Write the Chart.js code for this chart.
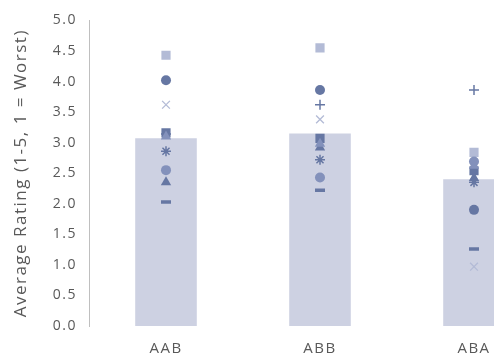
<!DOCTYPE html>
<html>
<head>
<meta charset="utf-8">
<script src="https://cdn.jsdelivr.net/npm/chart.js@4"></script>
<style>
  html, body { margin: 0; padding: 0; background: #fff; overflow: hidden; }
  #wrap { width: 560px; height: 363px; }
</style>
</head>
<body>
<div id="wrap"><canvas id="c" width="560" height="363"></canvas></div>
<script>
// Categories and averages
const categories = ['AAB', 'ABB', 'ABA'];
const averages = [3.07, 3.15, 2.40];

// Individual ratings, one array per respondent
const rLightSquare = [4.43, 4.55, 2.84];
const rDarkCircle = [4.02, 3.86, 1.90];
const rLightCross = [3.62, 3.38, 0.97];
const rDarkPlus = [3.14, 3.62, 3.86];
const rDarkSquare = [3.16, 3.07, 2.54];
const rLightTriangle = [3.10, 2.98, 2.62];
const rStar = [2.86, 2.72, 2.35];
const rMidCircle = [2.55, 2.43, 2.69];
const rDarkTriangle = [2.35, 2.92, 2.42];
const rDash = [2.03, 2.22, 1.26];

const yTicks = [0, 0.5, 1, 1.5, 2, 2.5, 3, 3.5, 4, 4.5, 5];

const DARK = '#6677a3';
const MID = '#8391bb';
const LIGHT = '#b3bbd6';
const BAR = '#cdd1e2';
const TEXT = '#595959';

function marks(data, style, color, radius, filled, lineWidth) {
  return {
    type: 'line',
    data: data,
    showLine: false,
    order: 1,
    pointStyle: style,
    pointRadius: radius,
    pointHoverRadius: radius,
    pointBackgroundColor: filled ? color : 'transparent',
    pointBorderColor: color,
    pointBorderWidth: filled ? 0 : (lineWidth || 1.5),
  };
}

// Slightly wider text spacing for all labels
const spacing = {
  id: 'spacing',
  beforeDraw(chart) { chart.ctx.letterSpacing = '1.5px'; },
};

new Chart(document.getElementById('c'), {
  plugins: [spacing],
  data: {
    labels: categories,
    datasets: [
      marks(rLightTriangle, 'triangle', MID, 6, true),
      marks(rDash, 'line', DARK, 5, false, 3.5),
      marks(rDarkTriangle, 'triangle', DARK, 6, true),
      marks(rMidCircle, 'circle', MID, 5, true),
      marks(rStar, 'star', DARK, 5, false),
      marks(rDarkSquare, 'rect', DARK, 6.5, true),
      marks(rDarkPlus, 'cross', DARK, 5, false),
      marks(rLightCross, 'crossRot', LIGHT, 5.5, false, 1.3),
      marks(rDarkCircle, 'circle', DARK, 5, true),
      marks(rLightSquare, 'rect', LIGHT, 6.5, true),
      {
        type: 'bar',
        data: averages,
        order: 100,
        backgroundColor: BAR,
        borderWidth: 0,
        barPercentage: 0.4,
        categoryPercentage: 1.0,
      },
    ],
  },
  options: {
    responsive: false,
    animation: false,
    events: [],
    layout: { padding: { top: 15, right: 9, left: 11, bottom: 0 } },
    plugins: { legend: { display: false }, tooltip: { enabled: false } },
    scales: {
      x: {
        type: 'category',
        grid: { display: false, drawTicks: false },
        border: { display: false },
        ticks: { color: TEXT, font: { family: 'Open Sans', size: 15 }, padding: 14 },
        afterFit: (s) => { s.height = 37; },
      },
      y: {
        min: 0,
        max: 5,
        afterBuildTicks: (s) => { s.ticks = yTicks.map(v => ({ value: v })); },
        grid: { display: false, drawTicks: false },
        border: { display: true, color: '#bfbfbf', width: 1 },
        ticks: {
          color: TEXT,
          font: { family: 'Open Sans', size: 14 },
          padding: 12,
          callback: (v) => Number(v).toFixed(1),
        },
        title: {
          display: true,
          text: 'Average Rating (1-5, 1 = Worst)',
          color: TEXT,
          font: { family: 'Open Sans', size: 17 },
          padding: 0,
        },
        afterFit: (s) => { s.width = 78; },
      },
    },
  },
});
</script>
</body>
</html>
